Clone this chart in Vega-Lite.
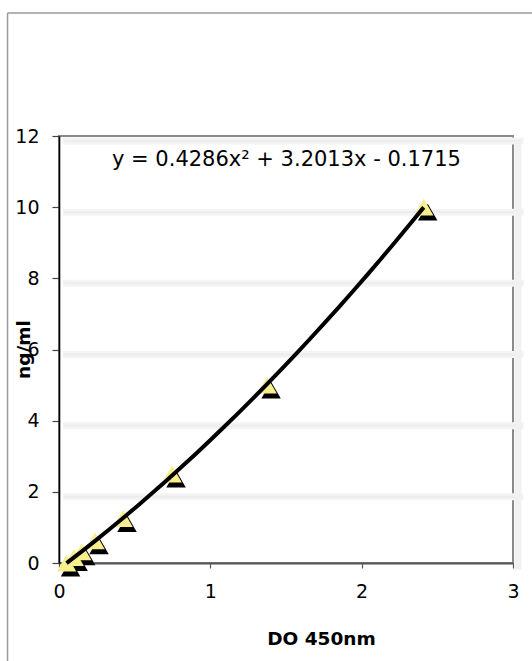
{
  "$schema": "https://vega.github.io/schema/vega-lite/v6.json",
  "autosize": "none",
  "width": 454,
  "height": 427,
  "padding": {"left": 59, "top": 136, "right": 19, "bottom": 98},
  "background": "white",
  "config": {"view": {"stroke": "#8a8a8a", "strokeWidth": 2}, "font": "DejaVu Sans"},
  "datasets": {
    "pts": [
      {"do": 0.05, "ng": 0},
      {"do": 0.10, "ng": 0.156},
      {"do": 0.15, "ng": 0.3125},
      {"do": 0.238, "ng": 0.625},
      {"do": 0.423, "ng": 1.25},
      {"do": 0.747, "ng": 2.5},
      {"do": 1.375, "ng": 5},
      {"do": 2.41, "ng": 10}
    ],
    "grid": [{"ng": 2}, {"ng": 4}, {"ng": 6}, {"ng": 8}, {"ng": 10}, {"ng": 12}],
    "eq": [{"label": "y = 0.4286x² + 3.2013x - 0.1715"}],
    "one": [{}]
  },
  "layer": [
    {
      "data": {"name": "one"},
      "mark": {"type": "rule", "color": "#9a9a9a", "strokeWidth": 1.5, "clip": false},
      "encoding": {
        "x": {"datum": -0.34, "type": "quantitative", "scale": {"domain": [0, 3], "nice": false}},
        "y": {"datum": -3, "type": "quantitative", "scale": {"domain": [0, 12], "nice": false}},
        "y2": {"datum": 15.46}
      }
    },
    {
      "data": {"name": "one"},
      "mark": {"type": "rule", "color": "#9a9a9a", "strokeWidth": 1.5, "clip": false},
      "encoding": {
        "x": {"datum": -0.34, "type": "quantitative", "scale": {"domain": [0, 3], "nice": false}},
        "x2": {"datum": 3.3},
        "y": {"datum": 15.46, "type": "quantitative", "scale": {"domain": [0, 12], "nice": false}}
      }
    },
    {
      "data": {"name": "grid"},
      "mark": {"type": "rule", "color": "#f4f4f4", "strokeWidth": 7, "yOffset": 5, "clip": false},
      "encoding": {
        "x": {"datum": 0.025, "type": "quantitative", "scale": {"domain": [0, 3], "nice": false}},
        "x2": {"datum": 3.07},
        "y": {"field": "ng", "type": "quantitative", "scale": {"domain": [0, 12], "nice": false}}
      }
    },
    {
      "data": {"name": "grid"},
      "mark": {"type": "rule", "color": "#ededed", "strokeWidth": 2.5, "yOffset": 5, "clip": false},
      "encoding": {
        "x": {"datum": 0.035, "type": "quantitative", "scale": {"domain": [0, 3], "nice": false}},
        "x2": {"datum": 3.06},
        "y": {"field": "ng", "type": "quantitative", "scale": {"domain": [0, 12], "nice": false}}
      }
    },
    {
      "data": {"name": "one"},
      "mark": {"type": "rule", "color": "#f1f1f1", "strokeWidth": 7, "xOffset": 5, "yOffset": 5, "y2Offset": 5, "clip": false},
      "encoding": {
        "x": {"datum": 3, "type": "quantitative", "scale": {"domain": [0, 3], "nice": false}},
        "y": {"datum": -0.05, "type": "quantitative", "scale": {"domain": [0, 12], "nice": false}},
        "y2": {"datum": 12}
      }
    },
    {
      "data": {"name": "pts"},
      "mark": {"type": "point", "shape": "triangle-up", "filled": true, "color": "black", "opacity": 1, "size": 380, "xOffset": 4, "yOffset": 5, "clip": false},
      "encoding": {
        "x": {
          "field": "do", "type": "quantitative",
          "scale": {"domain": [0, 3], "nice": false},
          "axis": {
            "title": "DO 450nm", "values": [0, 1, 2, 3], "format": "d", "grid": false,
            "domainColor": "#555555", "domainWidth": 2,
            "tickColor": "#555555", "tickSize": 5, "tickWidth": 1.2,
            "labelFontSize": 19, "labelPadding": 14, "labelColor": "black", "labelFlush": false,
            "titleFontSize": 18.5, "titleFontWeight": "bold", "titleColor": "black",
            "titleX": 262, "titleY": 75, "titleBaseline": "middle", "titleAlign": "center"
          }
        },
        "y": {
          "field": "ng", "type": "quantitative",
          "scale": {"domain": [0, 12], "nice": false},
          "axis": {
            "title": "ng/ml", "values": [0, 2, 4, 6, 8, 10, 12], "format": "d", "grid": false,
            "domainColor": "black", "domainWidth": 1.6,
            "tickColor": "#444444", "tickSize": 7, "tickWidth": 1.2,
            "labelFontSize": 19, "labelPadding": 13, "labelColor": "black",
            "titleFontSize": 18.5, "titleFontWeight": "bold", "titleColor": "black",
            "titleX": -36, "titleY": 213, "titleAngle": 270, "titleAlign": "center", "titleBaseline": "middle"
          }
        }
      }
    },
    {
      "data": {"name": "pts"},
      "mark": {"type": "point", "shape": "triangle-up", "filled": true, "color": "#f7ee8e", "opacity": 1, "size": 380, "clip": false},
      "encoding": {
        "x": {"field": "do", "type": "quantitative", "scale": {"domain": [0, 3], "nice": false}},
        "y": {"field": "ng", "type": "quantitative", "scale": {"domain": [0, 12], "nice": false}}
      }
    },
    {
      "data": {"name": "pts"},
      "transform": [{"regression": "ng", "on": "do", "method": "poly", "order": 2}],
      "mark": {"type": "line", "color": "black", "strokeWidth": 4, "clip": false},
      "encoding": {
        "x": {"field": "do", "type": "quantitative", "scale": {"domain": [0, 3], "nice": false}},
        "y": {"field": "ng", "type": "quantitative", "scale": {"domain": [0, 12], "nice": false}}
      }
    },
    {
      "data": {"name": "eq"},
      "mark": {"type": "text", "align": "left", "baseline": "middle", "fontSize": 21, "color": "black", "font": "DejaVu Sans"},
      "encoding": {
        "x": {"datum": 0.35, "type": "quantitative", "scale": {"domain": [0, 3], "nice": false}},
        "y": {"datum": 11.33, "type": "quantitative", "scale": {"domain": [0, 12], "nice": false}},
        "text": {"field": "label"}
      }
    }
  ]
}
